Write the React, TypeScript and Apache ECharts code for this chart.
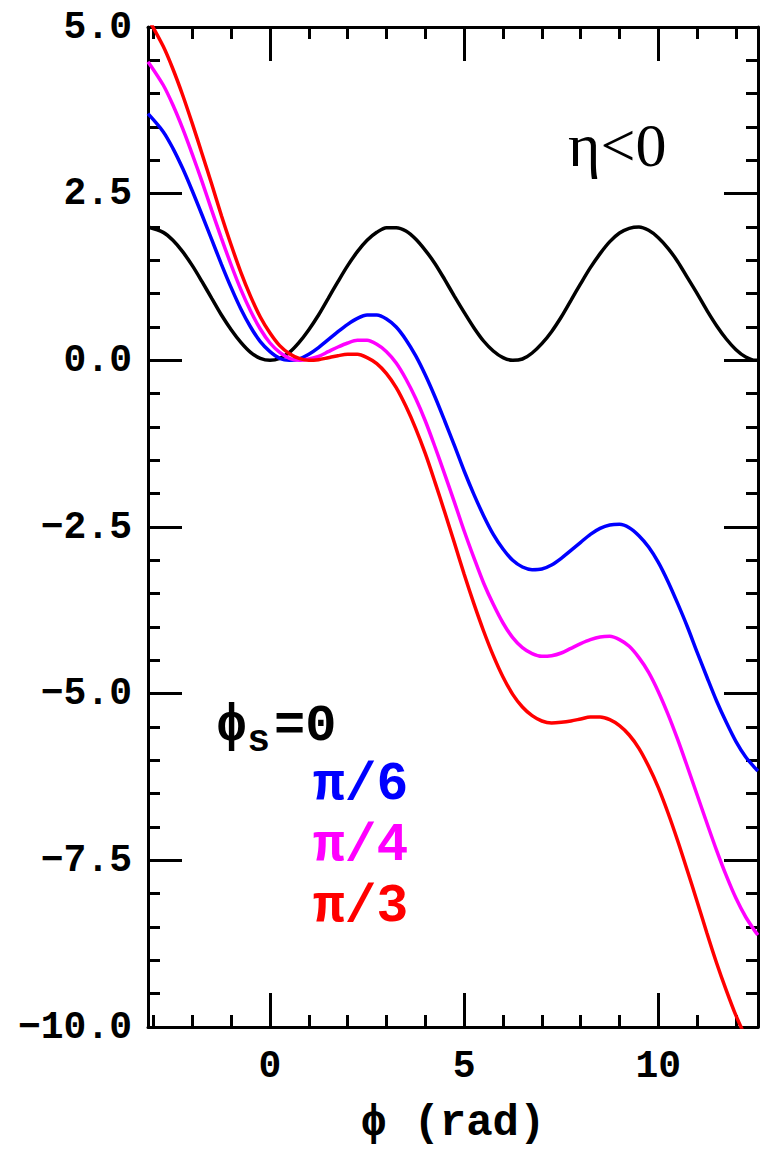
import React, { useEffect, useRef } from "react";
import * as echarts from "echarts";

// phase (rad)
const phi = [
  -3.1416, -2.75, -2.5, -2.25, -2, -1.75, -1.5, -1.25, -1, -0.75, -0.5, -0.25,
  0, 0.25, 0.5, 0.75, 1, 1.25, 1.5, 1.75, 2, 2.25, 2.5, 2.75, 3, 3.25, 3.5,
  3.75, 4, 4.25, 4.5, 4.75, 5, 5.25, 5.5, 5.75, 6, 6.25, 6.5, 6.75, 7, 7.25,
  7.5, 7.75, 8, 8.25, 8.5, 8.75, 9, 9.25, 9.5, 9.75, 10, 10.25, 10.5, 10.75,
  11, 11.25, 11.5, 11.75, 12, 12.25, 12.5, 12.566,
];
// phi_s = 0
const vZero = [
  2.0, 1.92, 1.8, 1.63, 1.42, 1.18, 0.93, 0.68, 0.46, 0.27, 0.12, 0.03, 0,
  0.03, 0.12, 0.27, 0.46, 0.68, 0.93, 1.18, 1.42, 1.63, 1.8, 1.92, 1.99, 1.99,
  1.94, 1.82, 1.65, 1.45, 1.21, 0.96, 0.72, 0.49, 0.29, 0.14, 0.04, 0.0, 0.02,
  0.11, 0.25, 0.43, 0.65, 0.9, 1.15, 1.39, 1.6, 1.78, 1.91, 1.98, 2.0, 1.95,
  1.84, 1.68, 1.48, 1.24, 1.0, 0.75, 0.52, 0.32, 0.16, 0.05, 0.0, 0.0,
];
// phi_s = pi/6
const vPi6 = [
  3.7, 3.43, 3.18, 2.88, 2.54, 2.18, 1.81, 1.44, 1.09, 0.77, 0.5, 0.28, 0.13,
  0.03, 0.0, 0.02, 0.09, 0.19, 0.31, 0.43, 0.54, 0.63, 0.68, 0.68, 0.62, 0.5,
  0.31, 0.07, -0.22, -0.55, -0.91, -1.28, -1.66, -2.01, -2.33, -2.61, -2.83,
  -3.0, -3.1, -3.14, -3.13, -3.07, -2.97, -2.85, -2.73, -2.61, -2.52, -2.47,
  -2.46, -2.51, -2.63, -2.8, -3.03, -3.32, -3.65, -4.0, -4.38, -4.75, -5.11,
  -5.43, -5.72, -5.95, -6.12, -6.16,
];
// phi_s = pi/4
const vPi4 = [
  4.48, 4.13, 3.83, 3.48, 3.09, 2.68, 2.25, 1.83, 1.43, 1.06, 0.74, 0.47, 0.26,
  0.12, 0.03, 0.0, 0.02, 0.06, 0.13, 0.2, 0.26, 0.3, 0.3, 0.24, 0.13, -0.04,
  -0.28, -0.57, -0.91, -1.3, -1.71, -2.13, -2.56, -2.96, -3.34, -3.66, -3.94,
  -4.16, -4.31, -4.4, -4.44, -4.43, -4.39, -4.32, -4.25, -4.19, -4.15, -4.14,
  -4.19, -4.29, -4.46, -4.68, -4.97, -5.31, -5.69, -6.1, -6.52, -6.94, -7.35,
  -7.73, -8.07, -8.35, -8.57, -8.62,
];
// phi_s = pi/3
const vPi3 = [
  5.13, 4.71, 4.37, 3.98, 3.55, 3.1, 2.64, 2.17, 1.73, 1.32, 0.96, 0.65, 0.41,
  0.22, 0.1, 0.03, 0.0, 0.01, 0.04, 0.07, 0.09, 0.09, 0.04, -0.05, -0.2, -0.41,
  -0.69, -1.02, -1.4, -1.83, -2.28, -2.74, -3.21, -3.65, -4.06, -4.43, -4.75,
  -5.01, -5.2, -5.33, -5.41, -5.44, -5.43, -5.41, -5.38, -5.35, -5.35, -5.39,
  -5.48, -5.62, -5.82, -6.09, -6.41, -6.79, -7.21, -7.66, -8.12, -8.59, -9.04,
  -9.45, -9.83, -10.15, -10.42, -10.48,
];

const xMajor = [0, 5, 10];
const xMinor = [-3, -2, -1, 0, 1, 2, 3, 4, 5, 6, 7, 8, 9, 10, 11, 12];

const seriesDefs = [
  { name: "0", values: vZero, color: "#000000" },
  { name: "π/6", values: vPi6, color: "#0000ff" },
  { name: "π/4", values: vPi4, color: "#ff00ff" },
  { name: "π/3", values: vPi3, color: "#ff0000" },
];

const FONT = "Liberation Mono";

export default function App() {
  const ref = useRef<HTMLDivElement>(null);
  useEffect(() => {
    if (!ref.current) return;
    const chart = echarts.init(ref.current, null, { renderer: "svg" });
    const line = { show: true, onZero: false, lineStyle: { color: "#000", width: 3 } };
    const xMin = -Math.PI;
    const xMax = 4 * Math.PI;
    const mkX = (pos: string, major: boolean, showLabel: boolean, extra: any = {}) => ({
      type: "value",
      position: pos,
      min: xMin,
      max: xMax,
      axisLine: major ? line : { show: false, onZero: false },
      axisTick: {
        show: true,
        inside: true,
        length: major ? 34 : 12,
        customValues: major ? xMajor : xMinor,
        lineStyle: { color: "#000", width: 3 },
      },
      axisLabel: showLabel
        ? {
            show: true,
            customValues: xMajor,
            fontSize: 38,
            fontWeight: "bold",
            color: "#000",
            fontFamily: FONT,
            margin: 20,
            formatter: (v: number) => String(Math.round(v)),
          }
        : { show: false },
      splitLine: { show: false },
      ...extra,
    });
    const mkY = (pos: string, showLabel: boolean) => ({
      type: "value",
      position: pos,
      min: -10,
      max: 5,
      interval: 2.5,
      axisLine: line,
      axisTick: { show: true, inside: true, length: 34, lineStyle: { color: "#000", width: 3 } },
      minorTick: { show: true, splitNumber: 5, length: 12, lineStyle: { color: "#000", width: 3 } },
      axisLabel: showLabel
        ? {
            show: true,
            fontSize: 38,
            fontWeight: "bold",
            color: "#000",
            fontFamily: FONT,
            margin: 16,
            formatter: (v: number) => v.toFixed(1).replace("-", "\u2212"),
          }
        : { show: false },
      splitLine: { show: false },
      minorSplitLine: { show: false },
    });
    chart.setOption({
      animation: false,
      backgroundColor: "#ffffff",
      grid: { left: 148, right: 4, top: 27, bottom: 130, containLabel: false },
      xAxis: [
        mkX("bottom", true, true, {
          name: "\u03d5 (rad)",
          nameLocation: "middle",
          nameGap: 74,
          nameTextStyle: { fontSize: 44, fontWeight: "bold", color: "#000", fontFamily: FONT },
        }),
        mkX("bottom", false, false),
        mkX("top", true, false),
        mkX("top", false, false),
      ],
      yAxis: [mkY("left", true), mkY("right", false)],
      series: seriesDefs.map((s) => ({
        type: "line",
        name: s.name,
        xAxisIndex: 0,
        yAxisIndex: 0,
        data: phi.map((x, i) => [x, s.values[i]]),
        smooth: 0.3,
        showSymbol: false,
        symbol: "none",
        clip: true,
        lineStyle: { color: s.color, width: 3.5 },
        itemStyle: { color: s.color },
      })),
      graphic: [
        {
          type: "text",
          left: 568,
          top: 114,
          style: { text: "η<0", fontSize: 62, fontFamily: "Liberation Serif", fill: "#000" },
        },
        {
          type: "text",
          left: 216,
          top: 700,
          style: {
            text: "{p|\u03d5}{s|s}{n|=0}",
            fill: "#000",
            rich: {
              p: { fontSize: 52, fontFamily: FONT, fontWeight: "bold", fill: "#000" },
              s: { fontSize: 38, fontFamily: FONT, fontWeight: "bold", fill: "#000", padding: [28, 0, 0, 0] },
              n: { fontSize: 52, fontFamily: FONT, fontWeight: "bold", fill: "#000", padding: [0, 0, 0, 4] },
            },
          },
        },
        ...seriesDefs.slice(1).map((s, i) => ({
          type: "text",
          left: 313,
          top: 758 + i * 61,
          style: { text: s.name, fontSize: 53, fontFamily: FONT, fontWeight: "bold", fill: s.color },
        })),
      ],
    });
    return () => chart.dispose();
  }, []);
  return (
    <div
      ref={ref}
      style={{ position: "absolute", left: 0, top: 0, width: 762, height: 1157, background: "#fff" }}
    />
  );
}
